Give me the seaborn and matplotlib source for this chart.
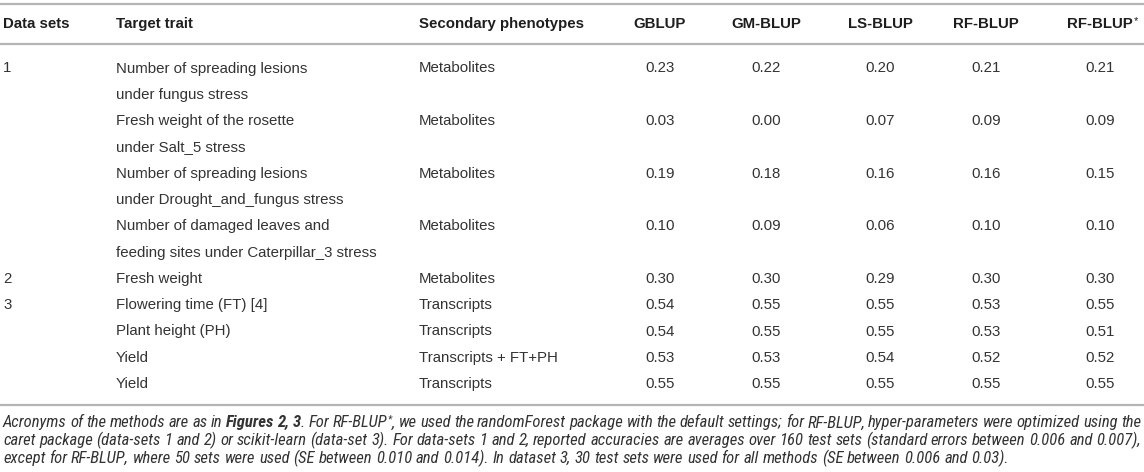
import numpy as np
import pandas as pd
import matplotlib
matplotlib.use("Agg")
import matplotlib.pyplot as plt
import seaborn as sns
from matplotlib import font_manager

# ---------------- data ----------------
data_sets = ["1", "", "", "", "2", "3", "", "", ""]
target_traits = [
    ["Number of spreading lesions", "under fungus stress"],
    ["Fresh weight of the rosette", "under Salt_5 stress"],
    ["Number of spreading lesions", "under Drought_and_fungus stress"],
    ["Number of damaged leaves and", "feeding sites under Caterpillar_3 stress"],
    ["Fresh weight"],
    ["Flowering time (FT) [4]"],
    ["Plant height (PH)"],
    ["Yield"],
    ["Yield"],
]
secondary = ["Metabolites", "Metabolites", "Metabolites", "Metabolites", "Metabolites",
             "Transcripts", "Transcripts", "Transcripts + FT+PH", "Transcripts"]
methods = ["GBLUP", "GM-BLUP", "LS-BLUP", "RF-BLUP", "RF-BLUP*"]
gblup = [0.23, 0.03, 0.19, 0.10, 0.30, 0.54, 0.54, 0.53, 0.55]
gm_blup = [0.22, 0.00, 0.18, 0.09, 0.30, 0.55, 0.55, 0.53, 0.55]
ls_blup = [0.20, 0.07, 0.16, 0.06, 0.29, 0.55, 0.55, 0.54, 0.55]
rf_blup = [0.21, 0.09, 0.16, 0.10, 0.30, 0.53, 0.53, 0.52, 0.55]
rf_blup_star = [0.21, 0.09, 0.15, 0.10, 0.30, 0.55, 0.51, 0.52, 0.55]
header_labels = ["Data sets", "Target trait", "Secondary phenotypes"]

footnote_lines = [
    [("Acronyms of the methods are as in ", "n"), ("Figures 2, 3", "b"), (". For RF-BLUP", "n"),
     ("*", "s"), (", we used the randomForest package with the default settings; for RF-BLUP, "
                  "hyper-parameters were optimized using the", "n")],
    [("caret package (data-sets 1 and 2) or scikit-learn (data-set 3). For data-sets 1 and 2, "
      "reported accuracies are averages over 160 test sets (standard errors between 0.006 and 0.007),", "n")],
    [("except for RF-BLUP, where 50 sets were used (SE between 0.010 and 0.014). In dataset 3, "
      "30 test sets were used for all methods (SE between 0.006 and 0.03).", "n")],
]
justified = [True, True, False]

df = pd.DataFrame({"GBLUP": gblup, "GM-BLUP": gm_blup, "LS-BLUP": ls_blup,
                   "RF-BLUP": rf_blup, "RF-BLUP*": rf_blup_star})

# ---------------- style ----------------
sns.set_theme(style="white")
BODY = "Liberation Sans"
plt.rcParams["font.family"] = [BODY, "DejaVu Sans"]

avail = {f.name for f in font_manager.fontManager.ttflist}
foot_family = None
foot_stretch = "normal"
for cand in ["Liberation Sans Narrow", "Roboto Condensed", "Open Sans Condensed", "DejaVu Sans Condensed"]:
    if cand in avail:
        foot_family = cand
        break
if foot_family is None:
    foot_family = "DejaVu Sans"
    foot_stretch = "condensed"
FAM = [foot_family, "DejaVu Sans"]

W, H = 1144, 472
fig = plt.figure(figsize=(W / 100, H / 100), dpi=100)
ax = fig.add_axes([0, 0, 1, 1])
ax.set_xlim(0, W)
ax.set_ylim(H, 0)
ax.axis("off")

FS = 10.8
TXT = "#333333"
HDR = "#1e1e1e"
RULE = "#b4b4b4"

for yy in (3.5, 43.5, 405):
    ax.axhline(yy, color=RULE, lw=1.6)

x_ds, x_tt, x_sp = 3, 116, 419
x_num = [660, 766, 880, 986, 1100]
y_head = 22.7
y0, dy = 67.2, 26.3
cap = 5.3

def base(yc):
    return yc + cap

for lab, xx in zip(header_labels, [x_ds, x_tt, x_sp]):
    ax.text(xx, base(y_head), lab, fontsize=FS, fontweight="bold", color=HDR, va="baseline", ha="left")

fig.canvas.draw()
renderer = fig.canvas.get_renderer()
for m, xx in zip(methods, x_num):
    star = m.endswith("*")
    lab = m.rstrip("*")
    t = ax.text(xx, base(y_head), lab, fontsize=FS, fontweight="bold", color=HDR, va="baseline", ha="center")
    if star:
        bb = t.get_window_extent(renderer)
        ax.text(bb.x1 + 0.5, base(y_head) - 3.5, "*", fontsize=8, color=HDR, va="baseline", ha="left")

line = 0
for i in range(len(target_traits)):
    yc = y0 + dy * line
    if data_sets[i]:
        ax.text(x_ds, base(yc), data_sets[i], fontsize=FS, color=TXT, va="baseline", ha="left")
    for k, tl in enumerate(target_traits[i]):
        ax.text(x_tt, base(y0 + dy * (line + k)), tl, fontsize=FS, color=TXT, va="baseline", ha="left")
    ax.text(x_sp, base(yc), secondary[i], fontsize=FS, color=TXT, va="baseline", ha="left")
    for col, xx in zip(df.columns, x_num):
        ax.text(xx, base(yc), f"{df[col].iloc[i]:.2f}", fontsize=FS, color=TXT, va="baseline", ha="center")
    line += len(target_traits[i])

# ---------------- footnote ----------------
def width_of(s, size, weight="normal"):
    kw = dict(fontsize=size, family=FAM, style="italic", fontweight=weight, fontstretch=foot_stretch)
    t = ax.text(0, 0, s + "|", **kw)
    t2 = ax.text(0, 0, "|", **kw)
    w = t.get_window_extent(renderer).width - t2.get_window_extent(renderer).width
    t.remove(); t2.remove()
    return w

ref = footnote_lines[1][0][0]
w10 = width_of(ref, 10)
ffs = 10 * 1137 / w10
SUP = 0.62

def seg_w(s, kind):
    if kind == "s":
        return width_of(s, ffs * SUP) + 1
    return width_of(s, ffs, "bold" if kind == "b" else "normal")

def words_of(pieces):
    words = [[]]
    for s, kind in pieces:
        parts = s.split(" ")
        for j, p in enumerate(parts):
            if j > 0:
                words.append([])
            if p:
                words[-1].append((p, kind))
    return [w for w in words if w]

space_w = width_of("a a", ffs) - width_of("aa", ffs)
foot_y = [423.2, 441.0, 458.6]
x_left, x_right = 3, 1141
for yc, pieces, just in zip(foot_y, footnote_lines, justified):
    words = words_of(pieces)
    wws = [sum(seg_w(s, k) for s, k in w) for w in words]
    gap = space_w
    if just and len(words) > 1:
        gap = (x_right - x_left - sum(wws)) / (len(words) - 1)
    x = x_left
    for w, ww in zip(words, wws):
        xx = x
        for s, kind in w:
            if kind == "s":
                ax.text(xx + 0.5, yc + 4.2 - 5, s, fontsize=ffs * SUP, family=FAM, style="italic",
                        color=TXT, va="baseline", ha="left", fontstretch=foot_stretch)
            else:
                ax.text(xx, yc + 4.2, s, fontsize=ffs, family=FAM, style="italic",
                        fontweight="bold" if kind == "b" else "normal", color=TXT,
                        va="baseline", ha="left", fontstretch=foot_stretch)
            xx += seg_w(s, kind)
        x += ww + gap

fig.savefig("out.png", dpi=100)
